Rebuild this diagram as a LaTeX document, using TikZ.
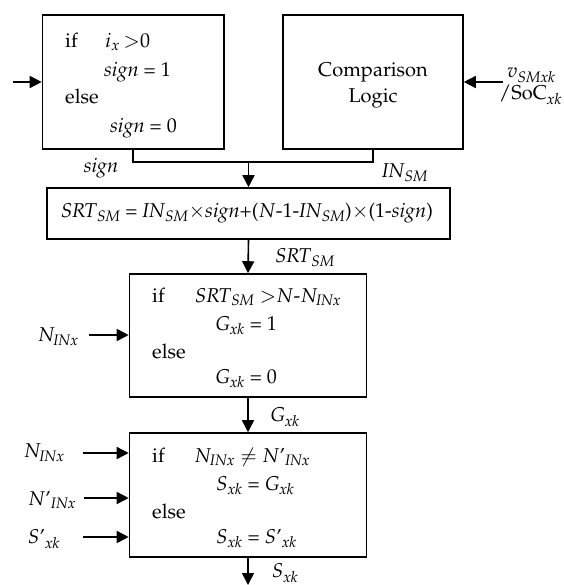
\documentclass[tikz,border=0pt]{standalone}
\usepackage[T1]{fontenc}
\usepackage{mathpazo}
\usetikzlibrary{arrows.meta}
\newcommand{\hy}{\mbox{-}}
\begin{document}
\begin{tikzpicture}[x=1pt,y=-1pt,
  box/.style={draw,line width=1.6pt,inner sep=0pt},
  txt/.style={inner sep=0pt,anchor=base west,font=\fontsize{20}{24}\selectfont},
  lbl/.style={inner sep=0pt,font=\fontsize{20}{24}\selectfont},
  arr/.style={line width=1.6pt,-{Triangle[length=12pt,width=12pt]}},
  ln/.style={line width=1.6pt}]
\useasboundingbox (0,0) rectangle (563,585);
% boxes
\node[box,minimum width=181.5pt,minimum height=134pt] (b1) at (133.25,82) {};
\node[box,minimum width=180pt,minimum height=134pt] (b2) at (373,82) {};
\node[box,minimum width=403pt,minimum height=51pt] (b3) at (248.5,213.5) {};
\node[box,minimum width=237pt,minimum height=123pt] (b4) at (248,335.5) {};
\node[box,minimum width=237pt,minimum height=124pt] (b5) at (248,495) {};
% box 1 text
\node[txt] (t11) at (65,48) {if};
\node[txt] (t12) at (105,48) {$i_x$\,$>$0};
\node[txt] (t13) at (104,77) {$\mathit{sign}$ = 1};
\node[txt] (t14) at (65,104) {else};
\node[txt] (t15) at (110,133) {$\mathit{sign}$ = 0};
% box 2 text
\node[lbl,anchor=base] (t2a) at (373,77) {Comparison};
\node[lbl,anchor=base] (t2b) at (373,103) {Logic};
% box 3 text
\node[lbl] (t3) at (247,213) {$\mathit{SRT}_{\mathit{SM}}$ = $\mathit{IN}_{\mathit{SM}}$$\times$$\mathit{sign}$+($N$\hy1\hy$\mathit{IN}_{\mathit{SM}}$)$\times$(1\hy$\mathit{sign}$)};
% box 4 text
\node[txt] (t41) at (152,302) {if};
\node[txt] (t42) at (195,302) {$\mathit{SRT}_{\mathit{SM}}$ $>$$N$\hy$N_{\mathit{INx}}$};
\node[txt] (t43) at (215,330) {$G_{\mathit{xk}}$ = 1};
\node[txt] (t44) at (152,358) {else};
\node[txt] (t45) at (215,383) {$G_{\mathit{xk}}$ = 0};
% box 5 text
\node[txt] (t51) at (152,462) {if};
\node[txt] (t52) at (194,462) {$N_{\mathit{INx}}$ $\neq$ $N$'$_{\mathit{INx}}$};
\node[txt] (t53) at (216,490) {$S_{\mathit{xk}}$ = $G_{\mathit{xk}}$};
\node[txt] (t54) at (152,518) {else};
\node[txt] (t55) at (216,543) {$S_{\mathit{xk}}$ = $S$'$_{\mathit{xk}}$};
% labels
\node[lbl] (lsign) at (101,168) {$\mathit{sign}$};
\node[lbl] (lin) at (405,173) {$\mathit{IN}_{\mathit{SM}}$};
\node[lbl,anchor=base west] (lv) at (507,78) {$v_{\mathit{SMxk}}$};
\node[lbl,anchor=base west] (lsoc) at (499,100) {/SoC$_{\mathit{xk}}$};
\node[lbl] (lsrt) at (305,258) {$\mathit{SRT}_{\mathit{SM}}$};
\node[lbl] (ln4) at (58,337) {$N_{\mathit{INx}}$};
\node[lbl] (lg) at (285,417) {$G_{\mathit{xk}}$};
\node[lbl] (ln5a) at (44,453) {$N_{\mathit{INx}}$};
\node[lbl] (ln5b) at (52,500) {$N$'$_{\mathit{INx}}$};
\node[lbl] (ls5) at (44,539) {$S$'$_{\mathit{xk}}$};
\node[lbl] (lsx) at (285,573) {$S_{\mathit{xk}}$};
% coordinates
\coordinate (in1) at (13,82);
\coordinate (in2) at (503,82);
\coordinate (j) at (248.5,162);
\coordinate (i4) at (89,335);
\coordinate (i5a) at (83,453);
\coordinate (i5b) at (84,498);
\coordinate (i5c) at (83,537);
\coordinate (out) at (248,585);
% connectors
\draw[arr] (in1) -- (b1.west);
\draw[arr] (in2) -- (b2.east);
\draw[ln] (b1.south) |- (j) -| (b2.south);
\draw[arr] (j) -- (b3.north);
\draw[arr] (b3.south) -- (b4.north);
\draw[arr] (i4) -- (i4 -| b4.west);
\draw[arr] (b4.south) -- (b5.north);
\draw[arr] (i5a) -- (i5a -| b5.west);
\draw[arr] (i5b) -- (i5b -| b5.west);
\draw[arr] (i5c) -- (i5c -| b5.west);
\draw[arr] (b5.south) -- (out);
\end{tikzpicture}
\end{document}
